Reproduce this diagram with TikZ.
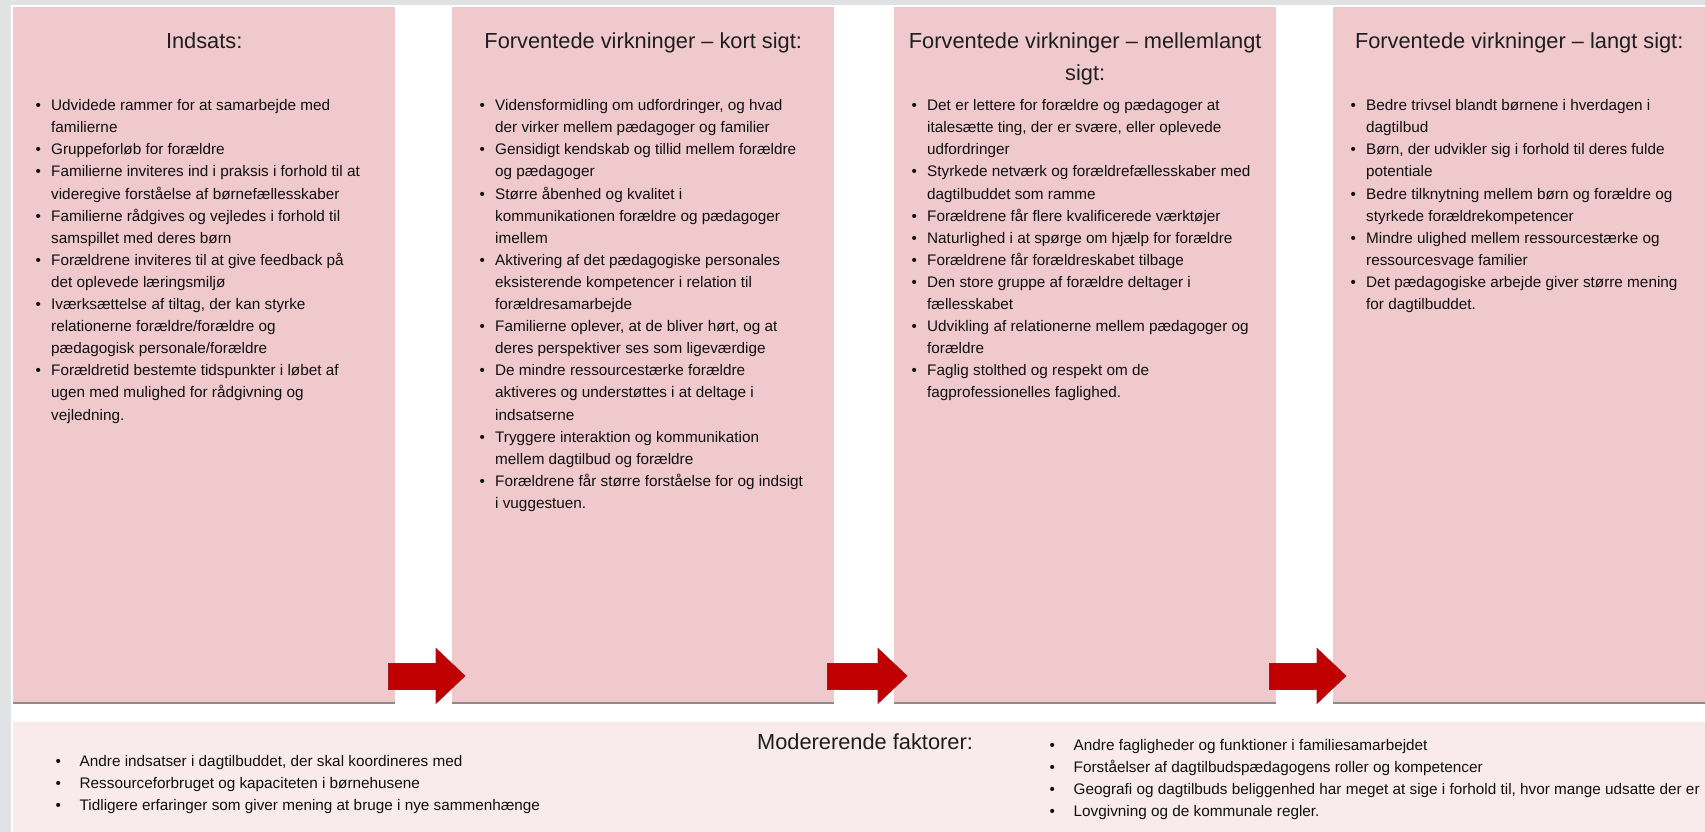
\documentclass[tikz,border=0pt]{standalone}
\usepackage{fontspec}
\setmainfont{Liberation Sans}
\usetikzlibrary{calc}
\definecolor{boxpink}{RGB}{240,201,205}
\definecolor{modpink}{RGB}{249,234,235}
\definecolor{framegray}{RGB}{224,226,228}
\definecolor{shadowgray}{RGB}{140,140,140}
\definecolor{arrowred}{RGB}{192,0,0}
\definecolor{arrowedge}{RGB}{165,20,35}
\definecolor{titletext}{RGB}{30,30,30}
\definecolor{bodytext}{RGB}{15,15,15}
\newlength\bw
\newcommand\bi[1]{\strut\makebox[\bw][l]{•}#1}
\newcommand\ci[1]{\strut\makebox[\bw]{}#1}
\newcommand\blockarrow[2]{%
  \filldraw[blockarrowstyle]
    ($(#1.south east)+(-7,-39)$) -- ($(#2.south west)+(-16,-39)$) --
    ($(#2.south west)+(-16,-54)$) -- ($(#2.south west)+(13,-26.5)$) --
    ($(#2.south west)+(-16,1)$) -- ($(#2.south west)+(-16,-13)$) --
    ($(#1.south east)+(-7,-13)$) -- cycle;}
\newcommand\boxshadow[1]{%
  \draw[shadowline] ($(#1.south west)+(0,0.75)$) -- ($(#1.south east)+(0,0.75)$);}
\tikzset{
  stagebox/.style={fill=boxpink, anchor=north west, inner sep=0pt, minimum height=695pt},
  modbox/.style={fill=modpink, anchor=north west, inner sep=0pt},
  shadowline/.style={draw=shadowgray, line width=1.5pt},
  blockarrowstyle/.style={fill=arrowred, draw=arrowedge, line width=0.7pt, line join=miter},
  titlestyle/.style={anchor=north, inner sep=0pt, align=center, text=titletext,
    font=\fontsize{21.8}{32}\selectfont},
  bodystyle/.style={anchor=north west, inner sep=0pt, align=left, text=bodytext,
    font=\fontsize{15.3}{22.1}\selectfont\setlength\bw{15.5pt}},
  modlist/.style={anchor=north west, inner sep=0pt, align=left, text=bodytext,
    font=\fontsize{15.3}{22.2}\selectfont\setlength\bw{24pt}},
}
\begin{document}
\begin{tikzpicture}[x=1pt,y=-1pt]
\useasboundingbox (0,0) rectangle (1705,832);
\fill[white] (0,0) rectangle (1705,832);
\fill[framegray] (0,0) rectangle (1705,5);
\fill[framegray] (0,0) rectangle (11,832);

% stage boxes
\node[stagebox, minimum width=382pt] (b1) at (13,7) {};
\node[stagebox, minimum width=382pt] (b2) at (452,7) {};
\node[stagebox, minimum width=382pt] (b3) at (894,7) {};
\node[stagebox, minimum width=372pt] (b4) at (1333,7) {};
\boxshadow{b1}
\boxshadow{b2}
\boxshadow{b3}
\boxshadow{b4}
\node[modbox, minimum width=1692pt, minimum height=110pt] (mod) at (13,722) {};

% titles
\node[titlestyle] (t1) at ($(b1.north)+(0,18.6)$) {\strut Indsats:};
\node[titlestyle] (t2) at ($(b2.north)+(0,18.6)$) {\strut Forventede virkninger – kort sigt:};
\node[titlestyle] (t3) at ($(b3.north)+(0,18.6)$) {\strut Forventede virkninger – mellemlangt\\\strut sigt:};
\node[titlestyle] (t4) at ($(b4.north)+(0,18.6)$) {\strut Forventede virkninger – langt sigt:};

% lists
\node[bodystyle] (l1) at (35.5,95) {%
\bi{Udvidede rammer for at samarbejde med}\\
\ci{familierne}\\
\bi{Gruppeforløb for forældre}\\
\bi{Familierne inviteres ind i praksis i forhold til at}\\
\ci{videregive forståelse af børnefællesskaber}\\
\bi{Familierne rådgives og vejledes i forhold til}\\
\ci{samspillet med deres børn}\\
\bi{Forældrene inviteres til at give feedback på}\\
\ci{det oplevede læringsmiljø}\\
\bi{Iværksættelse af tiltag, der kan styrke}\\
\ci{relationerne forældre/forældre og}\\
\ci{pædagogisk personale/forældre}\\
\bi{Forældretid bestemte tidspunkter i løbet af}\\
\ci{ugen med mulighed for rådgivning og}\\
\ci{vejledning.}};

\node[bodystyle] (l2) at (479.5,95) {%
\bi{Vidensformidling om udfordringer, og hvad}\\
\ci{der virker mellem pædagoger og familier}\\
\bi{Gensidigt kendskab og tillid mellem forældre}\\
\ci{og pædagoger}\\
\bi{Større åbenhed og kvalitet i}\\
\ci{kommunikationen forældre og pædagoger}\\
\ci{imellem}\\
\bi{Aktivering af det pædagogiske personales}\\
\ci{eksisterende kompetencer i relation til}\\
\ci{forældresamarbejde}\\
\bi{Familierne oplever, at de bliver hørt, og at}\\
\ci{deres perspektiver ses som ligeværdige}\\
\bi{De mindre ressourcestærke forældre}\\
\ci{aktiveres og understøttes i at deltage i}\\
\ci{indsatserne}\\
\bi{Tryggere interaktion og kommunikation}\\
\ci{mellem dagtilbud og forældre}\\
\bi{Forældrene får større forståelse for og indsigt}\\
\ci{i vuggestuen.}};

\node[bodystyle] (l3) at (911.5,95) {%
\bi{Det er lettere for forældre og pædagoger at}\\
\ci{italesætte ting, der er svære, eller oplevede}\\
\ci{udfordringer}\\
\bi{Styrkede netværk og forældrefællesskaber med}\\
\ci{dagtilbuddet som ramme}\\
\bi{Forældrene får flere kvalificerede værktøjer}\\
\bi{Naturlighed i at spørge om hjælp for forældre}\\
\bi{Forældrene får forældreskabet tilbage}\\
\bi{Den store gruppe af forældre deltager i}\\
\ci{fællesskabet}\\
\bi{Udvikling af relationerne mellem pædagoger og}\\
\ci{forældre}\\
\bi{Faglig stolthed og respekt om de}\\
\ci{fagprofessionelles faglighed.}};

\node[bodystyle] (l4) at (1350.5,95) {%
\bi{Bedre trivsel blandt børnene i hverdagen i}\\
\ci{dagtilbud}\\
\bi{Børn, der udvikler sig i forhold til deres fulde}\\
\ci{potentiale}\\
\bi{Bedre tilknytning mellem børn og forældre og}\\
\ci{styrkede forældrekompetencer}\\
\bi{Mindre ulighed mellem ressourcestærke og}\\
\ci{ressourcesvage familier}\\
\bi{Det pædagogiske arbejde giver større mening}\\
\ci{for dagtilbuddet.}};

% arrows
\blockarrow{b1}{b2}
\blockarrow{b2}{b3}
\blockarrow{b3}{b4}

% moderating factors
\node[anchor=base west, inner sep=0pt, text=titletext, font=\fontsize{21.8}{26}\selectfont] (mt) at (757,749) {Modererende faktorer:};
\node[modlist] (ml) at (55.5,750.5) {%
\bi{Andre indsatser i dagtilbuddet, der skal koordineres med}\\
\bi{Ressourceforbruget og kapaciteten i børnehusene}\\
\bi{Tidligere erfaringer som giver mening at bruge i nye sammenhænge}};
\node[modlist] (mr) at (1049.5,734.5) {%
\bi{Andre fagligheder og funktioner i familiesamarbejdet}\\
\bi{Forståelser af dagtilbudspædagogens roller og kompetencer}\\
\bi{Geografi og dagtilbuds beliggenhed har meget at sige i forhold til, hvor mange udsatte der er}\\
\bi{Lovgivning og de kommunale regler.}};
\end{tikzpicture}
\end{document}
